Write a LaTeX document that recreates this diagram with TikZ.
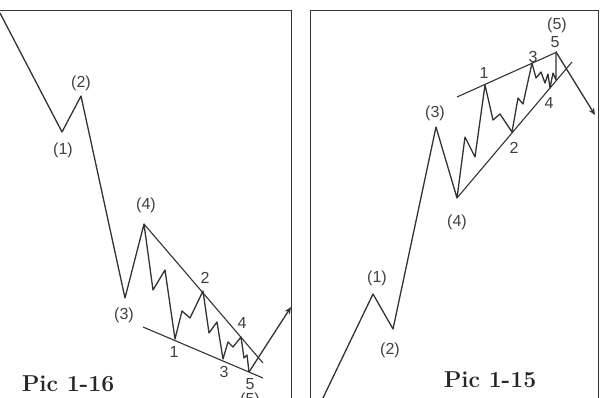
\documentclass[tikz,border=0pt]{standalone}
\usepackage{fontspec}
\newfontfamily\lblfont{Liberation Sans}
\usetikzlibrary{arrows.meta}

\begin{document}
\begin{tikzpicture}[x=1pt, y=-1pt,
    wave/.style = {draw=black!80, line width=1.3pt, line join=round},
    trend/.style = {draw=black!80, line width=1.1pt},
    lbl/.style = {font=\lblfont\fontsize{16}{16}\selectfont, text=black!75, inner sep=0pt},
    title/.style = {font=\bfseries\fontsize{23}{23}\selectfont, text=black!85, inner sep=0pt}]
    \useasboundingbox (0,0) rectangle (602,398);

    % Panel frames
    \draw[black!80, line width=0.9pt] (0,10) -- (291,10) -- (291,400);
    \draw[black!80, line width=0.9pt] (310,400) -- (310,10) -- (598,10) -- (598,400);

    % Left panel: falling five waves
    \coordinate (LS) at (0,13);
    \coordinate (L1) at (62,132);
    \coordinate (L2) at (81,96);
    \coordinate (L3) at (125,298);
    \coordinate (L4) at (144,224);
    \coordinate (l1) at (175,339);
    \coordinate (l2) at (203,291);
    \coordinate (l3) at (223,359);
    \coordinate (l4) at (241,337);
    \coordinate (l5) at (249,372);
    \coordinate (LE) at (291,307);
    \draw[wave] (LS) -- (L1) -- (L2) -- (L3) -- (L4) -- (153,290) -- (165,270) -- (l1)
        -- (182,311) -- (190,318) -- (l2) -- (209,333) -- (217,322) -- (l3)
        -- (228,342) -- (233,347) -- (l4) -- (244,358) -- (247,355) -- (l5);
    \draw[wave, -{Stealth[length=7pt, width=6pt]}] (l5) -- (LE);
    % wedge lines
    \coordinate (LU) at (263,363);
    \coordinate (LA) at (143,327);
    \coordinate (LB) at (263,378);
    \draw[trend] (L4) -- (LU);
    \draw[trend] (LA) -- (LB);

    % Left labels
    \node[lbl] (nL1) at (63,150) {(1)};
    \node[lbl] (nL2) at (81,83) {(2)};
    \node[lbl] (nL3) at (124,315) {(3)};
    \node[lbl] (nL4) at (146,205) {(4)};
    \node[lbl] (nL5) at (250,400) {(5)};
    \node[lbl] (nl1) at (174,352) {1};
    \node[lbl] (nl2) at (205,278) {2};
    \node[lbl] (nl3) at (224,372) {3};
    \node[lbl] (nl4) at (242,323) {4};
    \node[lbl] (nl5) at (250,384) {5};
    \node[title] (picL) at (68,384) {Pic 1-16};

    % Right panel: rising five waves
    \coordinate (RS) at (322,400);
    \coordinate (R1) at (373,294);
    \coordinate (R2) at (393,329);
    \coordinate (R3) at (436,127);
    \coordinate (R4) at (457,198);
    \coordinate (r1) at (485,85);
    \coordinate (r2) at (512,132);
    \coordinate (r3) at (532,63);
    \coordinate (r4) at (550,88);
    \coordinate (r5) at (556,52);
    \coordinate (RE) at (595,115);
    \draw[wave] (RS) -- (R1) -- (R2) -- (R3) -- (R4) -- (465,137) -- (475,157) -- (r1)
        -- (493,120) -- (500,114) -- (r2) -- (518,98) -- (523,104) -- (r3)
        -- (536,78) -- (541,72) -- (545,83) -- (548,74) -- (r4)
        -- (553,73) -- (556,80) -- (r5);
    \draw[wave, -{Stealth[length=7pt, width=6pt]}] (r5) -- (RE);
    % wedge lines
    \coordinate (RU) at (572,62);
    \coordinate (RA) at (457,97);
    \coordinate (RB) at (557,52);
    \draw[trend] (R4) -- (RU);
    \draw[trend] (RA) -- (RB);

    % Right labels
    \node[lbl] (nR1) at (377,278) {(1)};
    \node[lbl] (nR2) at (390,350) {(2)};
    \node[lbl] (nR3) at (435,113) {(3)};
    \node[lbl] (nR4) at (457,222) {(4)};
    \node[lbl] (nR5) at (557,25) {(5)};
    \node[lbl] (nr1) at (484,73) {1};
    \node[lbl] (nr2) at (514,148) {2};
    \node[lbl] (nr3) at (533,57) {3};
    \node[lbl] (nr4) at (549,103) {4};
    \node[lbl] (nr5) at (555,42) {5};
    \node[title] (picR) at (490,380) {Pic 1-15};

\end{tikzpicture}
\end{document}
